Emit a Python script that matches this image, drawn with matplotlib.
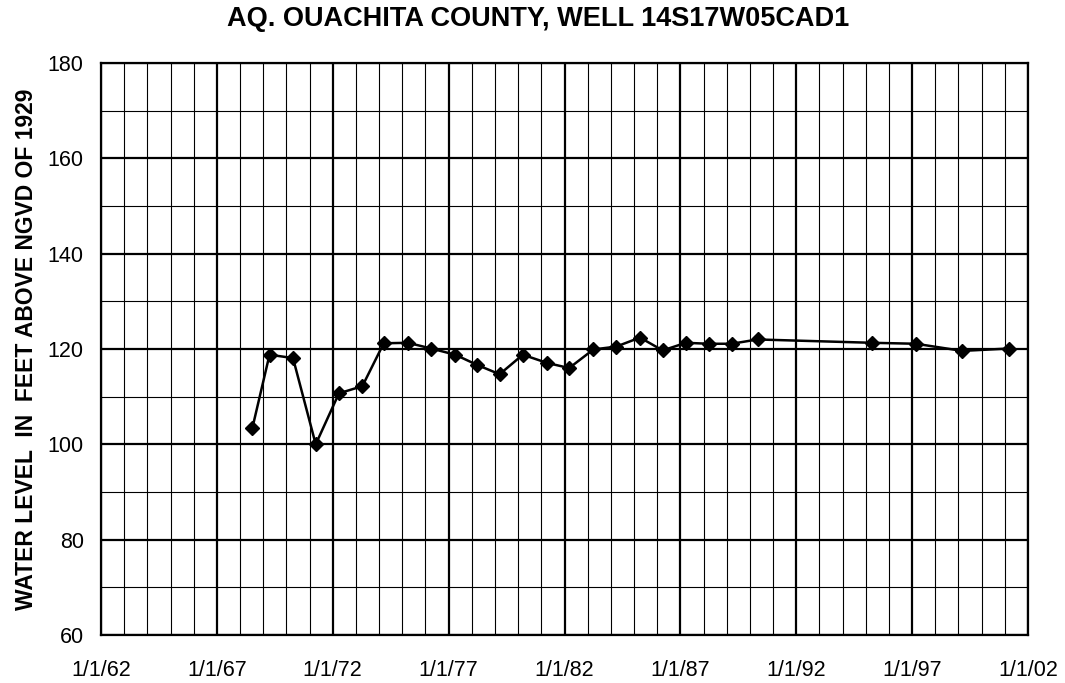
import matplotlib
matplotlib.use("Agg")
import matplotlib.pyplot as plt
import pandas as pd

dates = ["1968-07-15", "1969-04-10", "1970-04-15", "1971-04-08", "1972-04-08",
         "1973-04-12", "1974-03-15", "1975-04-01", "1976-04-01", "1977-04-15",
         "1978-03-20", "1979-03-15", "1980-03-15", "1981-03-28", "1982-03-15",
         "1983-04-01", "1984-03-25", "1985-04-05", "1986-03-28", "1987-03-28",
         "1988-03-20", "1989-03-20", "1990-05-01", "1995-04-15", "1997-03-01",
         "1999-03-01", "2001-03-05"]
levels = [103.5, 118.8, 118.1, 100.0, 110.7,
          112.2, 121.2, 121.3, 120.1, 118.8,
          116.7, 114.7, 118.8, 117.1, 116.0,
          119.9, 120.5, 122.4, 119.7, 121.3,
          121.1, 121.1, 122.0, 121.3, 121.1,
          119.6, 120.1]

x_years = [1962, 1967, 1972, 1977, 1982, 1987, 1992, 1997, 2002]
x_labels = ["1/1/62", "1/1/67", "1/1/72", "1/1/77", "1/1/82",
            "1/1/87", "1/1/92", "1/1/97", "1/1/02"]
y_ticks = [60, 80, 100, 120, 140, 160, 180]

title = "AQ. OUACHITA COUNTY, WELL 14S17W05CAD1"
ylabel = "WATER LEVEL  IN  FEET ABOVE NGVD OF 1929"

plt.rcParams["font.family"] = ["Liberation Sans", "DejaVu Sans"]

fig = plt.figure(figsize=(10.65, 6.83), dpi=100)
ax = fig.add_axes([101 / 1065, 1 - 635 / 683, 927 / 1065, 572 / 683])

d = pd.to_datetime(dates)
ax.plot(d, levels, color="black", linewidth=1.8, marker="D", markersize=7,
        zorder=5, clip_on=False)

major = [pd.Timestamp(f"{y}-01-01") for y in x_years]
minor = [pd.Timestamp(f"{y}-01-01") for y in range(x_years[0], x_years[-1] + 1)]
ax.set_xlim(major[0], major[-1])
ax.set_ylim(y_ticks[0], y_ticks[-1])
ax.set_xticks(major)
ax.set_xticklabels(x_labels)
ax.set_xticks(minor, minor=True)
ax.set_yticks(y_ticks)
ax.set_yticks(range(y_ticks[0], y_ticks[-1] + 1, 10), minor=True)

ax.grid(True, which="major", color="black", linewidth=1.6)
ax.grid(True, which="minor", color="black", linewidth=0.8)
ax.set_axisbelow(True)
for s in ax.spines.values():
    s.set_linewidth(1.6)
ax.tick_params(which="both", length=0)
ax.tick_params(axis="x", labelsize=15.5, pad=18)
ax.tick_params(axis="y", labelsize=15.5, pad=12.5)

# title sits a bit left of the plot centre in the original
fig.text(538 / 1065, 1 - 19 / 683, title, fontsize=19.5, fontweight="bold",
         ha="center", va="center")
ax.set_ylabel(ylabel, fontsize=16.5, fontweight="bold", labelpad=7)

fig.savefig("out.png", dpi=100)
